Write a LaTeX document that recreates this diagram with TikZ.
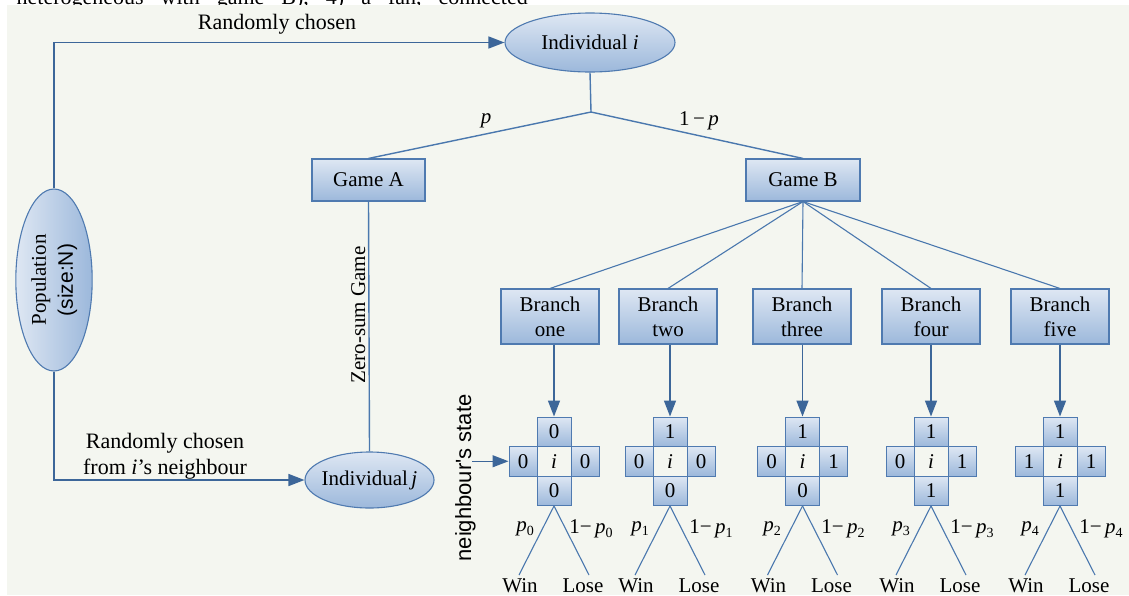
\documentclass[tikz,border=0pt]{standalone}
\usepackage{graphicx}
\usepackage{fontspec}
\setmainfont{Liberation Serif}
\newfontfamily\arialf{Liberation Sans}
\usetikzlibrary{arrows.meta,shapes.geometric}
\definecolor{bordc}{HTML}{4F7AB0}
\definecolor{boxtop}{HTML}{DEE7F3}
\definecolor{boxbot}{HTML}{9CB8DB}
\definecolor{linec}{HTML}{4A78AE}
\definecolor{arrc}{HTML}{3C6699}
\definecolor{bgc}{HTML}{F4F6F0}
\newcommand\mycross[6]{%
  \node[cell, minimum width=34pt] (#1t) at (#2,431.75) {#3};
  \node[cell, minimum width=34pt] (#1b) at (#2,490.75) {#6};
  \node[cell, minimum width=28pt] (#1l) at (#2-31,461.25) {#4};
  \node[cell, minimum width=28pt] (#1r) at (#2+31,461.25) {#5};
  \node (#1c) at (#2,461.25) {\textit{i}};
  \coordinate (#1w) at (#2-35,575);
  \coordinate (#1s) at (#2+35,575);
  \draw[thin line] (#1b.south) -- (#1w);
  \draw[thin line] (#1b.south) -- (#1s);
  \node[anchor=base] (#1win) at (#2-34,592) {Win};
  \node[anchor=base] (#1lose) at (#2+29,592) {Lose};
}
\newcommand\plab[2]{\textit{p}\raisebox{-0.35ex}{\fontsize{14}{14}\selectfont #2}}
\begin{document}
\begin{tikzpicture}[x=1pt,y=-1pt,
  every node/.style={font=\fontsize{21}{25}\selectfont, inner sep=0pt},
  box/.style={draw=bordc, line width=1.1pt, top color=boxtop, bottom color=boxbot, align=center},
  ell/.style={ellipse, draw=bordc, line width=1.1pt, top color=boxtop, bottom color=boxbot},
  cell/.style={draw=bordc, line width=1pt, top color=boxtop, bottom color=boxbot, minimum height=29.5pt},
  conn/.style={draw=linec, line width=1.4pt},
  thin line/.style={draw=linec, line width=1.1pt},
  arr/.style={draw=arrc, line width=1.5pt, -{Triangle[length=16pt,width=12pt]}},
]
\useasboundingbox (0,0) rectangle (1129,595);
\node[anchor=base east, font=\fontsize{22}{22}\selectfont] (cut) at (528,4.3) {\spaceskip=17pt\relax heterogeneous with game B), 4) a fan, connected};
\fill[bgc] (7,5) rectangle (1129,595);

% nodes
\node[ell, left color=boxtop, right color=boxbot, minimum width=76pt, minimum height=182pt] (pop) at (54,280)
  {\rotatebox{90}{\fontsize{21}{27}\selectfont\begin{tabular}{@{}c@{}}Population\\ {\arialf (size:N)}\end{tabular}}};
\node[ell, minimum width=170pt, minimum height=59pt] (indi) at (590,42.5) {\makebox[0pt]{Individual \textit{i}}};
\node[ell, minimum width=129pt, minimum height=56pt] (indj) at (369.5,480) {\makebox[0pt]{Individual\,\textit{j}}};
\node[box, minimum width=113pt, minimum height=42pt] (gameA) at (368.5,180) {Game A};
\node[box, minimum width=114pt, minimum height=42pt] (gameB) at (803,180) {Game B};
\node[box, minimum width=98pt, minimum height=55pt] (b1) at (550,316.5) {Branch\\one};
\node[box, minimum width=98pt, minimum height=55pt] (b2) at (668,316.5) {Branch\\two};
\node[box, minimum width=98pt, minimum height=55pt] (b3) at (802,316.5) {Branch\\three};
\node[box, minimum width=98pt, minimum height=55pt] (b4) at (931,316.5) {Branch\\four};
\node[box, minimum width=98pt, minimum height=55pt] (b5) at (1060,316.5) {Branch\\five};
\coordinate (jn) at (591,112);

% connectors
\draw[arr] (pop.north) |- (indi.west);
\draw[arr] (pop.south) |- (indj.west);
\draw[conn] (indi.south) -- (jn);
\draw[conn] (jn) -- (gameA.north);
\draw[conn] (jn) -- (gameB.north);
\draw[conn] (gameA.south) -- (indj.north);
\foreach \b in {b1,b2,b3,b4,b5} \draw[thin line] (gameB.south) -- (\b.north);

% crosses
\mycross{c1}{554}{0}{0}{0}{0}
\mycross{c2}{670}{1}{0}{0}{0}
\mycross{c3}{802.5}{1}{0}{1}{0}
\mycross{c4}{931}{1}{0}{1}{1}
\mycross{c5}{1060}{1}{1}{1}{1}
\draw[arr] (c1t.north |- b1.south) -- (c1t.north);
\draw[arr] (c2t.north |- b2.south) -- (c2t.north);
\draw[arr] (c3t.north |- b3.south) -- (c3t.north);
\draw[arr] (c4t.north |- b4.south) -- (c4t.north);
\draw[arr] (c5t.north |- b5.south) -- (c5t.north);
\coordinate (ns) at (472,461.25);
\draw[arr, line width=1.2pt] (ns) -- (c1l.west);

% labels
\node[anchor=base, font=\fontsize{22}{25}\selectfont] (rc1) at (277,29) {Randomly chosen};
\node[align=center, font=\fontsize{22}{26}\selectfont] (rc2) at (165,456) {Randomly chosen\\from \textit{i}'s neighbour};
\node[rotate=90, anchor=base] (zs) at (365,315) {Zero-sum Game};
\node[rotate=90, anchor=base, font=\fontsize{22}{22}\selectfont\arialf] (nst) at (471,478) {neighbour's state};
\node (lp) at (486,121) {\textit{p}};
\node (lq) at (699,121) {1\,−\,\textit{p}};
\node (p0) at (525,529) {\plab{p}{0}};
\node (q0) at (591,529) {1−\,\plab{p}{0}};
\node (p1) at (640,529) {\plab{p}{1}};
\node (q1) at (711,529) {1−\,\plab{p}{1}};
\node (p2) at (772,529) {\plab{p}{2}};
\node (q2) at (843,529) {1−\,\plab{p}{2}};
\node (p3) at (901,529) {\plab{p}{3}};
\node (q3) at (972,529) {1−\,\plab{p}{3}};
\node (p4) at (1030,529) {\plab{p}{4}};
\node (q4) at (1101,529) {1−\,\plab{p}{4}};
\end{tikzpicture}
\end{document}
